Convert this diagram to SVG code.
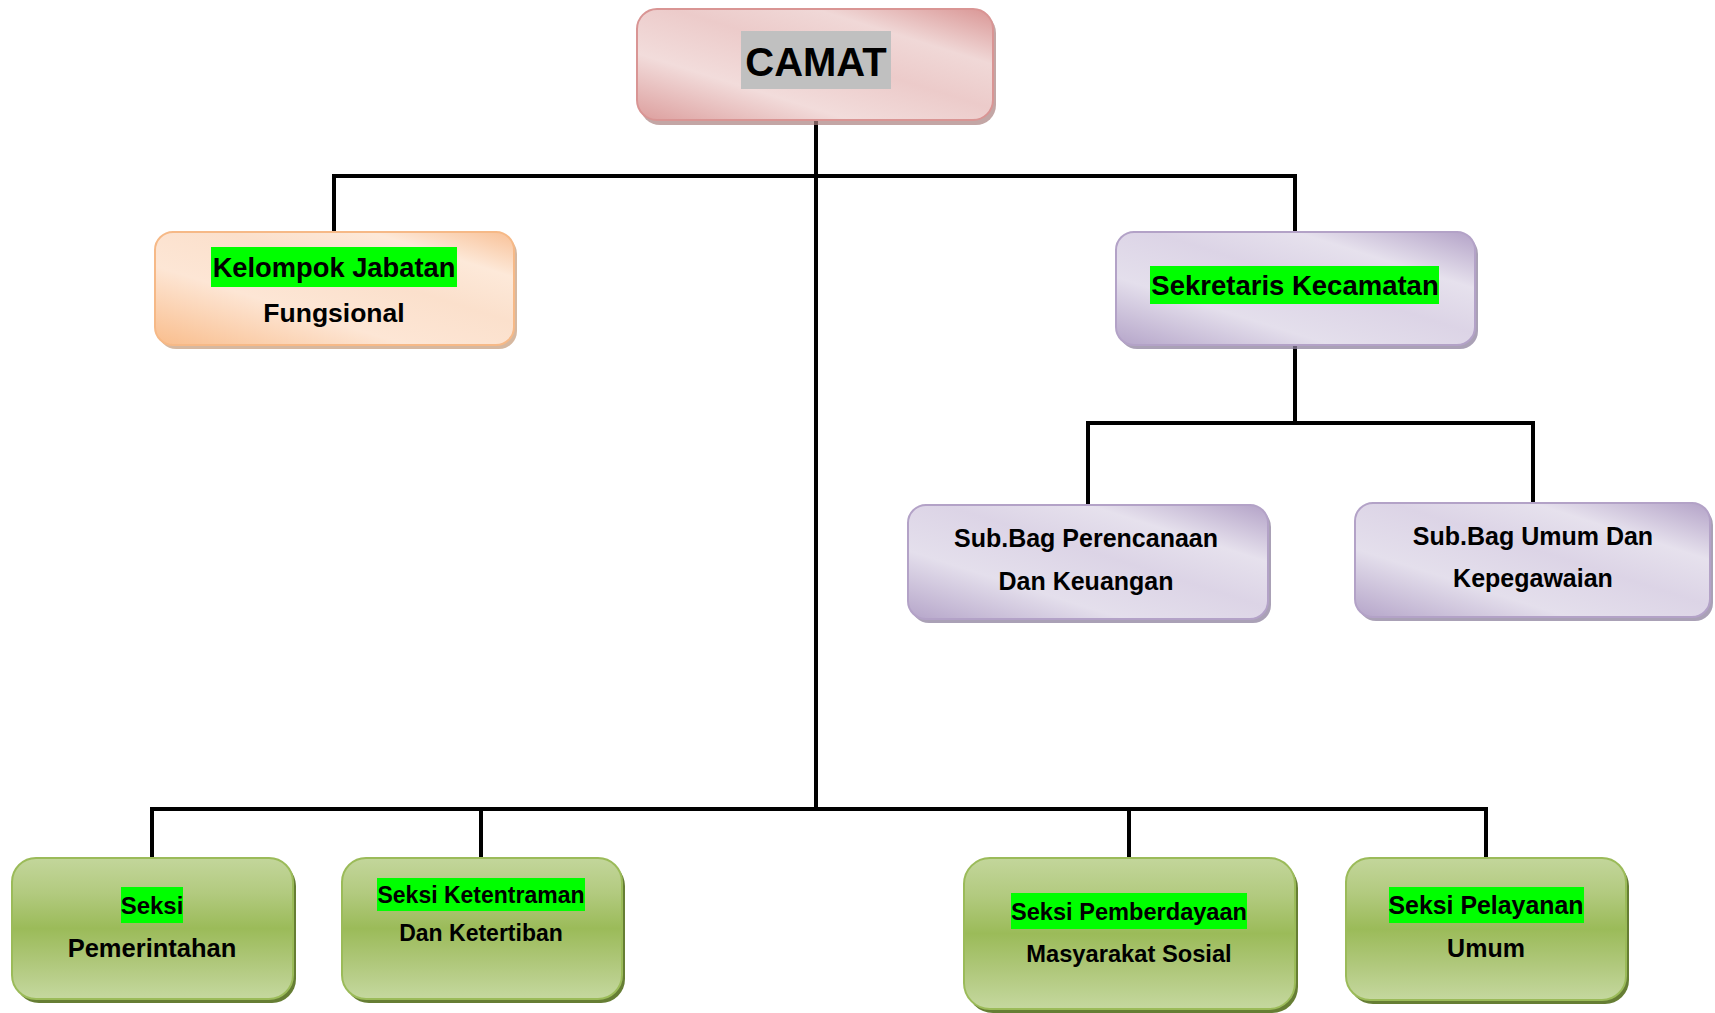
<svg xmlns="http://www.w3.org/2000/svg" width="1715" height="1013" viewBox="0 0 1715 1013">
<style>
  text { font-family: "Liberation Sans", Arial, sans-serif; font-weight: bold; fill: #000; text-anchor: middle; }
  .conn { stroke: #000; stroke-width: 4; fill: none; stroke-linecap: square; }
  .hl { fill: #00ff00; }
  .pinkS { fill: #a9807f; opacity: 0.7; }
  .oranS { fill: #c59a78; opacity: 0.7; }
  .purpS { fill: #8e819e; opacity: 0.75; }
  .greenS { fill: #667e34; }
  .pink { fill: url(#gPink); stroke: #d99594; stroke-width: 2; }
  .oran { fill: url(#gOran); stroke: #f6b987; stroke-width: 2; }
  .purp { fill: url(#gPurp); stroke: #b3a2c7; stroke-width: 2; }
  .green { fill: url(#gGreen); stroke: #9bbb59; stroke-width: 2; }
</style>
<defs>
  <linearGradient id="gPink" x1="0" y1="1" x2="1" y2="0">
    <stop offset="0" stop-color="#dc9e9d"/>
    <stop offset="0.3" stop-color="#f2dcdb"/>
    <stop offset="0.55" stop-color="#eccbca"/>
    <stop offset="0.75" stop-color="#f0d8d7"/>
    <stop offset="1" stop-color="#d99594"/>
  </linearGradient>
  <linearGradient id="gOran" x1="0" y1="1" x2="1" y2="0">
    <stop offset="0" stop-color="#f9bd8c"/>
    <stop offset="0.35" stop-color="#fde6d5"/>
    <stop offset="0.6" stop-color="#fbe0cc"/>
    <stop offset="0.8" stop-color="#fde9d9"/>
    <stop offset="1" stop-color="#f8c096"/>
  </linearGradient>
  <linearGradient id="gPurp" x1="0" y1="1" x2="1" y2="0">
    <stop offset="0" stop-color="#b5a5c9"/>
    <stop offset="0.3" stop-color="#e4dfec"/>
    <stop offset="0.55" stop-color="#dcd4e6"/>
    <stop offset="0.75" stop-color="#e6e1ed"/>
    <stop offset="1" stop-color="#b3a2c7"/>
  </linearGradient>
  <linearGradient id="gGreen" x1="0" y1="0" x2="0" y2="1">
    <stop offset="0" stop-color="#c3d69b"/>
    <stop offset="0.25" stop-color="#b2ca7f"/>
    <stop offset="0.5" stop-color="#9bbb59"/>
    <stop offset="0.75" stop-color="#b0c87c"/>
    <stop offset="1" stop-color="#c5d89f"/>
  </linearGradient>
</defs>

<g id="connectors">
  <line class="conn" x1="816" y1="120" x2="816" y2="809"/>
  <line class="conn" x1="334" y1="176" x2="1295" y2="176"/>
  <line class="conn" x1="334" y1="176" x2="334" y2="232"/>
  <line class="conn" x1="1295" y1="176" x2="1295" y2="232"/>
  <line class="conn" x1="1295" y1="345" x2="1295" y2="423"/>
  <line class="conn" x1="1088" y1="423" x2="1533" y2="423"/>
  <line class="conn" x1="1088" y1="423" x2="1088" y2="505"/>
  <line class="conn" x1="1533" y1="423" x2="1533" y2="503"/>
  <line class="conn" x1="152" y1="809" x2="1486" y2="809"/>
  <line class="conn" x1="152" y1="809" x2="152" y2="858"/>
  <line class="conn" x1="481" y1="809" x2="481" y2="858"/>
  <line class="conn" x1="1129" y1="809" x2="1129" y2="858"/>
  <line class="conn" x1="1486" y1="809" x2="1486" y2="858"/>
</g>

<g id="camat">
  <rect class="pinkS" x="640" y="13" width="356" height="112" rx="20"/>
  <rect class="pink" x="637" y="9" width="356" height="111" rx="20"/>
  <rect x="741" y="31" width="150" height="58" fill="#c0c0c0"/>
  <text x="816" y="76" font-size="40">CAMAT</text>
</g>

<g id="kelompok">
  <rect class="oranS" x="158" y="236" width="359" height="113" rx="18"/>
  <rect class="oran" x="155" y="232" width="359" height="113" rx="18"/>
  <rect class="hl" x="211" y="247" width="246" height="40"/>
  <text x="334" y="277" font-size="27.3">Kelompok Jabatan</text>
  <text x="334" y="322" font-size="26.5">Fungsional</text>
</g>

<g id="sekretaris">
  <rect class="purpS" x="1119" y="236" width="359" height="113" rx="18"/>
  <rect class="purp" x="1116" y="232" width="359" height="113" rx="18"/>
  <rect class="hl" x="1150" y="266" width="289" height="38"/>
  <text x="1295" y="295" font-size="27.5">Sekretaris Kecamatan</text>
</g>

<g id="subbag-perencanaan">
  <rect class="purpS" x="911" y="509" width="360" height="114" rx="18"/>
  <rect class="purp" x="908" y="505" width="360" height="114" rx="18"/>
  <text x="1086" y="547" font-size="25">Sub.Bag Perencanaan</text>
  <text x="1086" y="590" font-size="25">Dan Keuangan</text>
</g>

<g id="subbag-umum">
  <rect class="purpS" x="1358" y="507" width="355" height="114" rx="18"/>
  <rect class="purp" x="1355" y="503" width="355" height="114" rx="18"/>
  <text x="1533" y="545" font-size="25">Sub.Bag Umum Dan</text>
  <text x="1533" y="587" font-size="25">Kepegawaian</text>
</g>

<g id="seksi-pemerintahan">
  <rect class="greenS" x="15" y="862" width="281" height="141" rx="24"/>
  <rect class="green" x="12" y="858" width="281" height="141" rx="24"/>
  <rect class="hl" x="121" y="887" width="62" height="36"/>
  <text x="152" y="914" font-size="24">Seksi</text>
  <text x="152" y="957" font-size="25.5">Pemerintahan</text>
</g>

<g id="seksi-ketentraman">
  <rect class="greenS" x="345" y="862" width="280" height="141" rx="24"/>
  <rect class="green" x="342" y="858" width="280" height="141" rx="24"/>
  <rect class="hl" x="377" y="878" width="208" height="33"/>
  <text x="481" y="903" font-size="23">Seksi Ketentraman</text>
  <text x="481" y="941" font-size="23">Dan Ketertiban</text>
</g>

<g id="seksi-pemberdayaan">
  <rect class="greenS" x="967" y="862" width="331" height="151" rx="26"/>
  <rect class="green" x="964" y="858" width="331" height="151" rx="26"/>
  <rect class="hl" x="1011" y="893" width="236" height="36"/>
  <text x="1129" y="920" font-size="23.6">Seksi Pemberdayaan</text>
  <text x="1129" y="962" font-size="23.7">Masyarakat Sosial</text>
</g>

<g id="seksi-pelayanan">
  <rect class="greenS" x="1349" y="862" width="280" height="142" rx="24"/>
  <rect class="green" x="1346" y="858" width="280" height="142" rx="24"/>
  <rect class="hl" x="1389" y="887" width="195" height="36"/>
  <text x="1486" y="914" font-size="24.9">Seksi Pelayanan</text>
  <text x="1486" y="957" font-size="25">Umum</text>
</g>
</svg>
